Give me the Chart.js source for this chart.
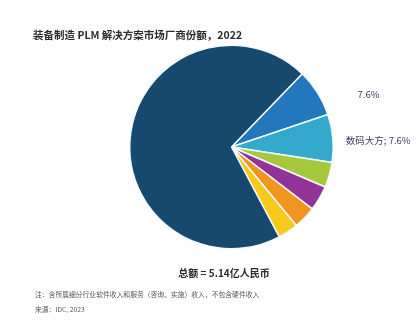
<!DOCTYPE html>
<html>
<head>
<meta charset="utf-8">
<script src="https://cdn.jsdelivr.net/npm/chart.js@4/dist/chart.umd.min.js"></script>
<style>
  html, body { margin: 0; padding: 0; background: #ffffff; }
  #wrap { position: relative; width: 418px; height: 320px; }
</style>
</head>
<body>
<div id="wrap"><canvas id="c" width="418" height="320"></canvas></div>
<script>
// Data
const categories = ['厂商A', '数码大方', '厂商C', '厂商D', '厂商E', '厂商F', '其他'];
const shares = [7.6, 7.6, 4.0, 4.0, 3.6, 3.2, 70.0];
const sliceLabels = ['7.6%', '数码大方; 7.6%', '', '', '', '', ''];
const colors = ['#2277bd', '#34a9cc', '#a6c83c', '#933395', '#f1951f', '#f7c91c', '#17496f'];
const titleText = '装备制造 PLM 解决方案市场厂商份额，2022';
const totalText = '总额 = 5.14亿人民币';
const noteText = '注：含所属细分行业软件收入和服务（咨询、实施）收入，不包含硬件收入';
const sourceText = '来源：IDC, 2023';

const CJK = '"Noto Sans CJK SC", "Noto Sans", sans-serif';

const textPlugin = {
  id: 'texts',
  afterDraw(chart) {
    const ctx = chart.ctx;
    ctx.save();
    // Title
    ctx.fillStyle = '#2b2b2b';
    ctx.font = 'bold 10.5px ' + CJK;
    ctx.textAlign = 'left';
    ctx.textBaseline = 'middle';
    ctx.fillText(titleText, 33, 35);

    // Slice labels
    const meta = chart.getDatasetMeta(0);
    ctx.fillStyle = '#3d3b6b';
    ctx.font = '9.5px ' + CJK;
    const offsets = [[51, 'center'], [13, 'left']];
    meta.data.forEach((arc, i) => {
      if (!sliceLabels[i]) return;
      const p = arc.getProps(['x', 'y', 'startAngle', 'endAngle', 'outerRadius'], true);
      const mid = (p.startAngle + p.endAngle) / 2;
      const ex = p.x + Math.cos(mid) * p.outerRadius;
      const ey = p.y + Math.sin(mid) * p.outerRadius;
      const o = offsets[i] || [14, 'left'];
      ctx.textAlign = o[1];
      ctx.fillText(sliceLabels[i], ex + o[0], ey + 2);
    });

    // Total
    ctx.fillStyle = '#2b2b2b';
    ctx.font = 'bold 10px ' + CJK;
    ctx.textAlign = 'center';
    ctx.fillText(totalText, 224, 273);

    // Note and source
    ctx.fillStyle = '#555555';
    ctx.font = '6.8px ' + CJK;
    ctx.textAlign = 'left';
    ctx.fillText(noteText, 35, 294);
    ctx.fillText(sourceText, 35, 309);
    ctx.restore();
  }
};

new Chart(document.getElementById('c'), {
  type: 'pie',
  data: {
    labels: categories,
    datasets: [{
      data: shares,
      backgroundColor: colors,
      borderColor: '#f4fbff',
      borderWidth: 1.5
    }]
  },
  options: {
    responsive: false,
    animation: false,
    rotation: 44,
    layout: { padding: { left: 129, right: 84, top: 43, bottom: 69 } },
    plugins: {
      legend: { display: false },
      tooltip: { enabled: false },
      title: { display: false }
    }
  },
  plugins: [textPlugin]
});
</script>
</body>
</html>
